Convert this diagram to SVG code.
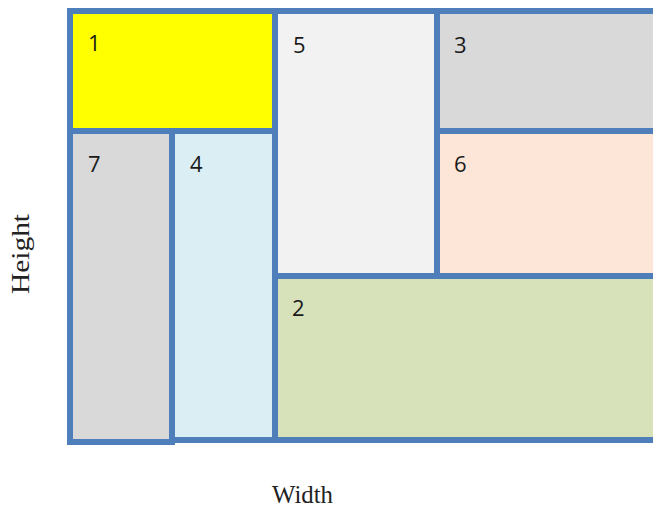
<svg xmlns="http://www.w3.org/2000/svg" width="653" height="508" viewBox="0 0 653 508">
<style>
.b{stroke:#4f7fbb;stroke-width:6}
.n{font-family:"Open Sans","Liberation Sans",sans-serif;font-size:22px;fill:#1a1a1a}
.ax{font-family:"Liberation Serif",serif;font-size:25px;fill:#222}
</style>
<rect width="653" height="508" fill="#ffffff"/>
<g id="n1"><rect class="b" x="70" y="11" width="205" height="120" fill="#ffff00"/><text class="n" x="88" y="51">1</text></g>
<g id="n5"><rect class="b" x="275" y="11" width="162" height="265" fill="#f2f2f2"/><text class="n" x="293" y="53">5</text></g>
<g id="n3"><rect class="b" x="437" y="11" width="222" height="120" fill="#d9d9d9"/><text class="n" x="454" y="53">3</text></g>
<g id="n7"><rect class="b" x="70" y="131" width="102" height="311" fill="#d9d9d9"/><text class="n" x="88" y="172">7</text></g>
<g id="n4"><rect class="b" x="172" y="131" width="103" height="309" fill="#dbeef4"/><text class="n" x="190" y="172">4</text></g>
<g id="n6"><rect class="b" x="437" y="131" width="222" height="145" fill="#fde6d8"/><text class="n" x="454" y="172">6</text></g>
<g id="n2"><rect class="b" x="275" y="276" width="384" height="164" fill="#d7e2bb"/><text class="n" x="292" y="316">2</text></g>
<g id="connectors"></g>
<text class="ax" x="272" y="503" textLength="61" lengthAdjust="spacingAndGlyphs">Width</text>
<text class="ax" transform="translate(29,294) rotate(-90)" textLength="80" lengthAdjust="spacingAndGlyphs">Height</text>
</svg>
